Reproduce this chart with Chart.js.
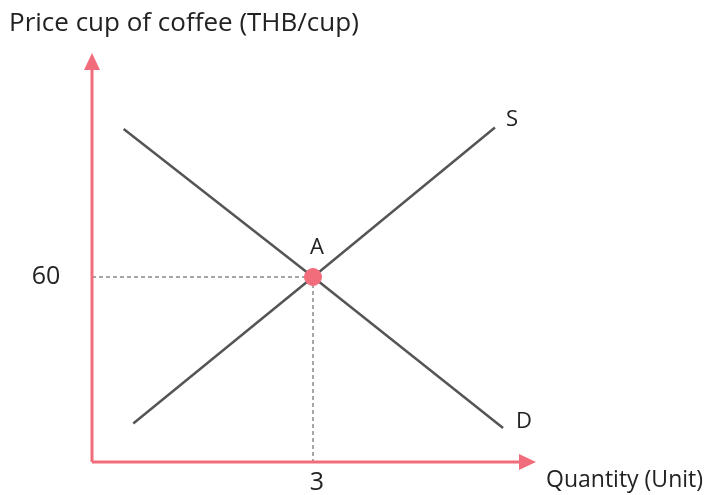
<!DOCTYPE html>
<html>
<head>
<meta charset="utf-8">
<script src="https://cdn.jsdelivr.net/npm/chart.js@4/dist/chart.umd.min.js"></script>
<style>
  body { margin: 0; background: #fff; }
  #wrap { width: 723px; height: 495px; }
</style>
</head>
<body>
<div id="wrap"><canvas id="chart" width="723" height="495"></canvas></div>
<script>
// Données du graphique offre / demande
var demande = [{x: 0.43, y: 108}, {x: 3, y: 60}, {x: 5.58, y: 11}];
var offre = [{x: 0.56, y: 12.5}, {x: 3, y: 60}, {x: 5.47, y: 108.5}];
var equilibre = [{x: 3, y: 60}];
var xTicks = [3];
var yTicks = [60];
var axisColor = '#f26d7b';
var lineColor = '#555555';
var font = '"Open Sans", sans-serif';

// Flèches, pointillés et textes
var decor = {
  id: 'decor',
  beforeDatasetsDraw: function(chart) {
    var c = chart.ctx, a = chart.chartArea;
    var xs = chart.scales.x, ys = chart.scales.y;
    var px = xs.getPixelForValue(equilibre[0].x), py = ys.getPixelForValue(equilibre[0].y);
    c.save();
    c.strokeStyle = '#8a8a8a';
    c.lineWidth = 1.5;
    c.setLineDash([4, 3]);
    c.beginPath();
    c.moveTo(a.left, py); c.lineTo(px, py);
    c.moveTo(px, py); c.lineTo(px, a.bottom);
    c.stroke();
    c.setLineDash([]);
    // axes
    c.strokeStyle = axisColor;
    c.fillStyle = axisColor;
    c.lineWidth = 3;
    c.beginPath();
    c.moveTo(a.left, a.bottom); c.lineTo(a.left, a.top + 12);
    c.moveTo(a.left, a.bottom); c.lineTo(a.right - 12, a.bottom);
    c.stroke();
    c.beginPath();
    c.moveTo(a.left, a.top - 2); c.lineTo(a.left - 8, a.top + 15); c.lineTo(a.left + 8, a.top + 15); c.closePath();
    c.fill();
    c.beginPath();
    c.moveTo(a.right + 2, a.bottom); c.lineTo(a.right - 15, a.bottom - 8); c.lineTo(a.right - 15, a.bottom + 8); c.closePath();
    c.fill();
    c.restore();
  },
  afterDraw: function(chart) {
    var c = chart.ctx, a = chart.chartArea;
    var xs = chart.scales.x, ys = chart.scales.y;
    c.save();
    c.fillStyle = '#222';
    c.textBaseline = 'middle';
    c.font = '26px ' + font;
    c.textAlign = 'left';
    c.fillText('Price cup of coffee (THB/cup)', 9, 24);
    c.font = '23px ' + font;
    c.fillText('Quantity (Unit)', 546, 480);
    c.font = '25px ' + font;
    c.textAlign = 'center';
    yTicks.forEach(function(v) { c.fillText(String(v), 46, ys.getPixelForValue(v)); });
    xTicks.forEach(function(v) { c.fillText(String(v), xs.getPixelForValue(v) + 4, 483); });
    c.font = '22px ' + font;
    c.fillText('A', xs.getPixelForValue(3) + 4, ys.getPixelForValue(60) - 29);
    var s = offre[offre.length - 1], d = demande[demande.length - 1];
    c.fillText('S', xs.getPixelForValue(s.x) + 17, ys.getPixelForValue(s.y) - 8);
    c.fillText('D', xs.getPixelForValue(d.x) + 21, ys.getPixelForValue(d.y) - 6);
    c.restore();
  }
};

var ctx = document.getElementById('chart').getContext('2d');
var chart = new Chart(ctx, {
  type: 'scatter',
  data: {
    datasets: [
      { label: 'D', data: demande, showLine: true, borderColor: lineColor, borderWidth: 2.5, pointRadius: 0, order: 2 },
      { label: 'S', data: offre, showLine: true, borderColor: lineColor, borderWidth: 2.5, pointRadius: 0, order: 2 },
      { label: 'A', data: equilibre, backgroundColor: axisColor, borderColor: axisColor, pointRadius: 8.5, order: 1 }
    ]
  },
  options: {
    responsive: false,
    animation: false,
    layout: { padding: { left: 92, right: 189, top: 55, bottom: 33 } },
    scales: {
      x: { type: 'linear', min: 0, max: 6, display: false },
      y: { type: 'linear', min: 0, max: 132, display: false }
    },
    plugins: { legend: { display: false }, tooltip: { enabled: false } }
  },
  plugins: [decor]
});
</script>
</body>
</html>
